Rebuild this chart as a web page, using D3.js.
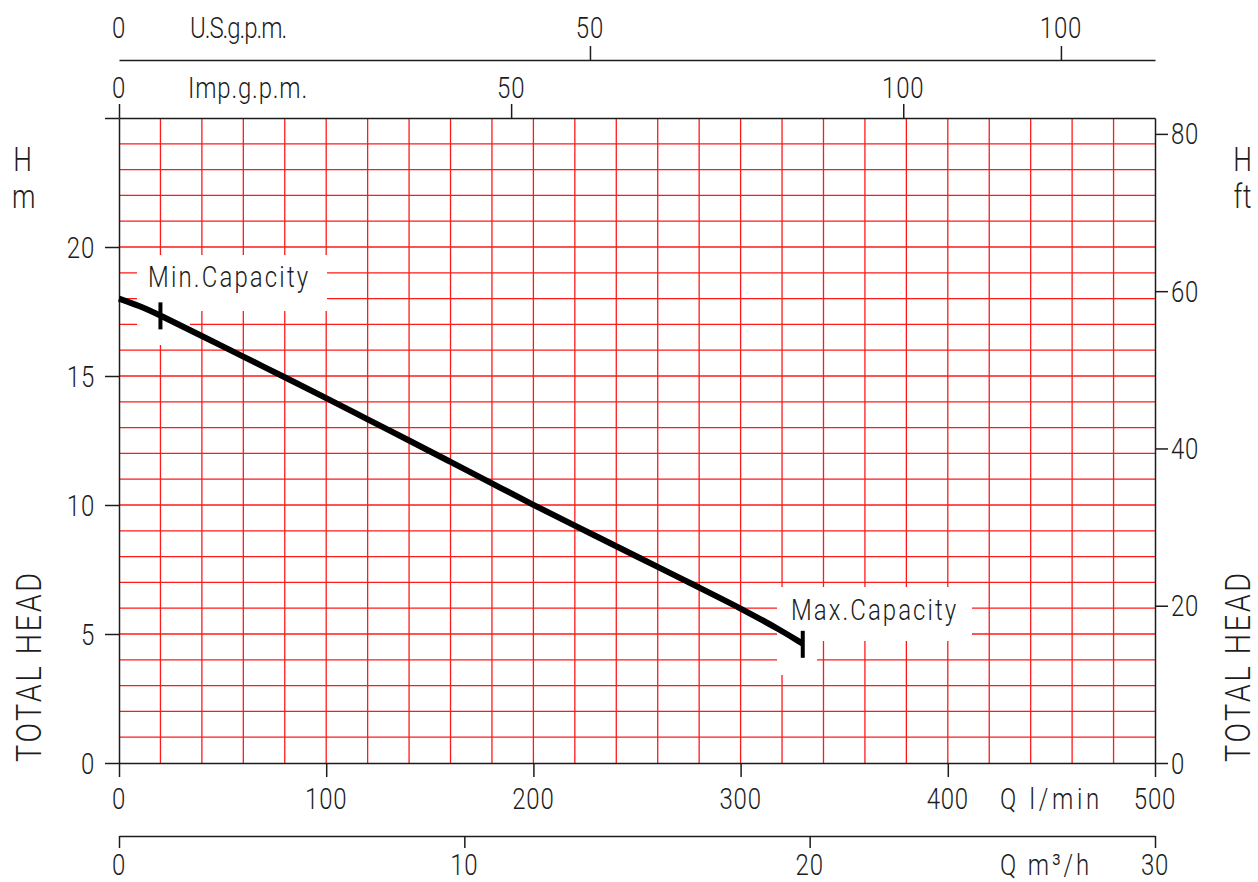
<!DOCTYPE html>
<html>
<head>
<meta charset="utf-8">
<script src="https://cdn.jsdelivr.net/npm/d3@7/dist/d3.min.js"></script>
<style>
  html, body { margin: 0; padding: 0; background: #fff; }
  svg { display: block; }
  text { font-family: Roboto, "Liberation Sans Narrow", sans-serif; font-weight: 300; fill: #1c1c1c; }
</style>
</head>
<body>
<svg id="chart" width="1258" height="882"></svg>
<script>
// ---- data ----
const flowLmin = [0, 10, 20, 40, 60, 80, 100, 120, 140, 160, 180, 200, 220, 240, 260, 280, 300, 320, 330];
const headM    = [18.0, 17.72, 17.35, 16.55, 15.75, 14.95, 14.15, 13.32, 12.5, 11.67, 10.84, 10.0, 9.2, 8.4, 7.6, 6.8, 6.0, 5.12, 4.62];
const minCapacity = 20;   // l/min
const maxCapacity = 330;  // l/min
const lminTicks = [0, 100, 200, 300, 400, 500];
const m3hTicks = [0, 10, 20, 30];
const headTicks = [0, 5, 10, 15, 20];
const ftTicks = [0, 20, 40, 60, 80];
const impTicks = [0, 50, 100];
const usTicks = [0, 50, 100];

// ---- scales ----
const x = d3.scaleLinear([0, 500], [119, 1155]);
const y = d3.scaleLinear([0, 25], [763, 118]);
const yFt = d3.scaleLinear([0, 25 / 0.3048], [763, 118]);
const xM3h = d3.scaleLinear([0, 30], [119, 1155]);
const xImp = d3.scaleLinear([0, 500 / 3.785], [119, 1155]);
const xUS = d3.scaleLinear([0, 500 / 4.546], [119, 1155]);

const svg = d3.select('#chart');
const SX = 0.8;
function label(px, py, txt, o = {}) {
  const sx = o.sx || SX;
  const t = svg.append('text')
    .attr('transform', `translate(${px},${py})` + (o.rot ? ` rotate(${o.rot})` : '') + ` scale(${sx},1)`)
    .attr('text-anchor', o.anchor || 'middle')
    .style('font-size', (o.size || 30) + 'px')
    .style('letter-spacing', (o.ls != null ? o.ls : 1) + 'px')
    .text(txt);
  if (o.len) t.attr('textLength', o.len / sx).attr('lengthAdjust', 'spacing');
  return t;
}

// ---- grid ----
const grid = svg.append('g').attr('stroke', '#ff1a1a').attr('stroke-width', 1.3);
grid.selectAll('line.v').data(d3.range(20, 500, 20)).join('line')
  .attr('x1', d => x(d)).attr('x2', d => x(d)).attr('y1', y(25)).attr('y2', y(0));
grid.selectAll('line.h').data(d3.range(1, 25, 1)).join('line')
  .attr('x1', x(0)).attr('x2', x(500)).attr('y1', d => y(d)).attr('y2', d => y(d));

// ---- white label boxes ----
const boxes = [
  [137, 255, 327, 311], [137, 311, 190, 345],
  [777, 587, 972, 641], [777, 641, 817, 675]
];
svg.append('g').selectAll('rect').data(boxes).join('rect')
  .attr('x', d => d[0]).attr('y', d => d[1])
  .attr('width', d => d[2] - d[0]).attr('height', d => d[3] - d[1])
  .attr('fill', '#fff');

// ---- axes ----
function styleAxis(g) {
  g.selectAll('path').attr('stroke', '#1c1c1c').attr('stroke-width', 1.5);
  g.selectAll('line').attr('stroke', '#1c1c1c').attr('stroke-width', 1.5);
  g.selectAll('text').remove();
}
svg.append('g').attr('transform', 'translate(119,0)')
  .call(d3.axisLeft(y).tickValues(headTicks.concat([25])).tickSize(14).tickSizeOuter(0)).call(styleAxis);
svg.append('g').attr('transform', 'translate(1155,0)')
  .call(d3.axisRight(yFt).tickValues(ftTicks).tickSize(13).tickSizeOuter(0)).call(styleAxis);
svg.append('g').attr('transform', 'translate(0,763)')
  .call(d3.axisBottom(x).tickValues(lminTicks).tickSize(14).tickSizeOuter(0)).call(styleAxis);
svg.append('g').attr('transform', 'translate(0,836)')
  .call(d3.axisBottom(xM3h).tickValues(m3hTicks).tickSize(12).tickSizeOuter(0)).call(styleAxis);
svg.append('g').attr('transform', 'translate(0,118)')
  .call(d3.axisTop(xImp).tickValues(impTicks).tickSize(14).tickSizeOuter(0)).call(styleAxis);
svg.append('g').attr('transform', 'translate(0,60)')
  .call(d3.axisTop(xUS).tickValues(usTicks.filter(d => d > 0)).tickSize(14).tickSizeOuter(0)).call(styleAxis);

// ---- curve ----
const pts = flowLmin.map((q, i) => [q, headM[i]]);
svg.append('path').datum(pts)
  .attr('d', d3.line().x(d => x(d[0])).y(d => y(d[1])).curve(d3.curveBasis))
  .attr('fill', 'none').attr('stroke', '#000').attr('stroke-width', 6);

const headAt = q => d3.scaleLinear(flowLmin, headM)(q);
svg.append('g').selectAll('line').data([minCapacity, maxCapacity]).join('line')
  .attr('x1', d => x(d)).attr('x2', d => x(d))
  .attr('y1', d => y(headAt(d)) - 13).attr('y2', d => y(headAt(d)) + 14)
  .attr('stroke', '#000').attr('stroke-width', 4);

// ---- tick labels ----
headTicks.forEach(v => label(95, y(v) + 10.5, String(v), { anchor: 'end' }));
ftTicks.forEach(v => label(1171, yFt(v) + 10.5, String(v), { anchor: 'start' }));
lminTicks.forEach(v => label(x(v), 809, String(v)));
m3hTicks.forEach(v => label(xM3h(v), 875, String(v)));
impTicks.forEach(v => label(xImp(v), 98, String(v)));
usTicks.forEach(v => label(xUS(v), 38, String(v)));

// ---- axis titles ----
label(188, 98, 'Imp.g.p.m.', { anchor: 'start', len: 120 });
label(190, 38, 'U.S.g.p.m.', { anchor: 'start', len: 98 });
label(1000, 809, 'Q  l/min', { anchor: 'start', len: 100 });
label(1000, 875, 'Q  m³/h', { anchor: 'start', len: 90 });
label(23, 171, 'H', { size: 33 });
label(24, 208, 'm', { size: 33 });
label(1243, 171, 'H', { size: 33 });
label(1243, 208, 'ft', { size: 33 });
label(41, 762, 'TOTAL HEAD', { anchor: 'start', size: 36, rot: -90, len: 190 });
label(1250, 762, 'TOTAL HEAD', { anchor: 'start', size: 36, rot: -90, len: 190 });

// ---- capacity labels ----
label(148, 287, 'Min.Capacity', { anchor: 'start', len: 161 });
label(791, 620, 'Max.Capacity', { anchor: 'start', len: 166 });
</script>
</body>
</html>
